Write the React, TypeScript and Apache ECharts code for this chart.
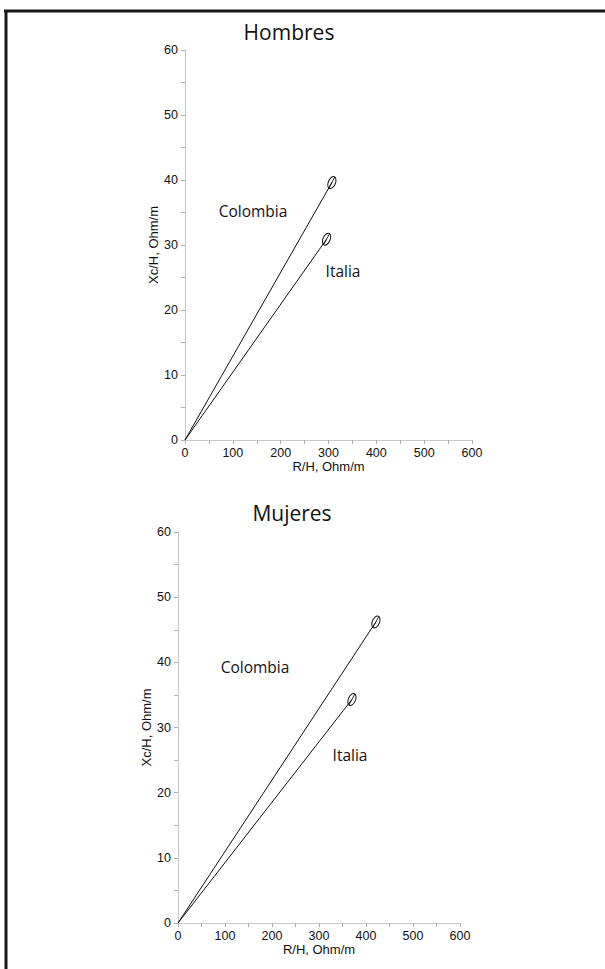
import React, { useEffect, useRef } from "react";
import * as echarts from "echarts";

const countries = ["Colombia", "Italia"];
const hombresRH = [307, 296];
const hombresXcH = [39.6, 30.9];
const mujeresRH = [421, 370];
const mujeresXcH = [46.2, 34.3];
const xTicks = [0, 100, 200, 300, 400, 500, 600];
const yTicks = [0, 10, 20, 30, 40, 50, 60];
const panelTitles = ["Hombres", "Mujeres"];

const AXIS_FONT = "'Liberation Sans', Arial, sans-serif";
const TEXT_FONT = "'Open Sans', Lato, sans-serif";

function makeAxes(gridIndex: number) {
  const common = {
    gridIndex,
    axisLine: { show: true, lineStyle: { color: "#c8c8c8", width: 1 } },
    axisTick: { show: true, length: 4, lineStyle: { color: "#b0b0b0" } },
    minorTick: { show: true, splitNumber: 2, length: 4, lineStyle: { color: "#b0b0b0" } },
    splitLine: { show: false },
    axisLabel: { color: "#111", fontFamily: AXIS_FONT, fontSize: 12.5 },
    nameTextStyle: { color: "#111", fontFamily: AXIS_FONT, fontSize: 13 },
  };
  const x = {
    ...common,
    type: "value",
    min: xTicks[0],
    max: xTicks[xTicks.length - 1],
    interval: xTicks[1] - xTicks[0],
    name: "R/H, Ohm/m",
    nameLocation: "middle",
    nameGap: 20,
    axisLabel: { ...common.axisLabel, margin: 6 },
  };
  const y = {
    ...common,
    type: "value",
    min: yTicks[0],
    max: yTicks[yTicks.length - 1],
    interval: yTicks[1] - yTicks[0],
    name: "Xc/H, Ohm/m",
    nameLocation: "middle",
    nameGap: 24,
    nameRotate: 90,
    axisLabel: { ...common.axisLabel, margin: 7 },
  };
  return { x, y };
}

function ellipseRender(params: any, api: any) {
  const p = api.coord([api.value(0), api.value(1)]);
  const rx = 3.6;
  const ry = 6.3;
  return {
    type: "group",
    x: p[0],
    y: p[1],
    rotation: -0.4,
    children: [
      {
        type: "ellipse",
        shape: { cx: 0, cy: 0, rx, ry },
        style: { fill: "rgba(255,255,255,0)", stroke: "#111", lineWidth: 1 },
      },
      {
        type: "line",
        shape: { x1: -0.6, y1: ry, x2: 0.6, y2: -ry },
        style: { stroke: "#111", lineWidth: 0.8 },
      },
    ],
  };
}

export default function App() {
  const ref = useRef<HTMLDivElement>(null);
  useEffect(() => {
    if (!ref.current) return;
    const chart = echarts.init(ref.current, null, { renderer: "svg" });
    const a0 = makeAxes(0);
    const a1 = makeAxes(1);
    const panels = [
      { r: hombresRH, xc: hombresXcH },
      { r: mujeresRH, xc: mujeresXcH },
    ];
    const series: any[] = [];
    panels.forEach((pn, gi) => {
      countries.forEach((c, i) => {
        series.push({
          type: "line",
          name: c,
          xAxisIndex: gi,
          yAxisIndex: gi,
          data: [
            [0, 0],
            [pn.r[i], pn.xc[i]],
          ],
          showSymbol: false,
          symbol: "none",
          lineStyle: { color: "#111", width: 1 },
          silent: true,
        });
      });
      series.push({
        type: "custom",
        xAxisIndex: gi,
        yAxisIndex: gi,
        renderItem: ellipseRender,
        data: pn.r.map((v, i) => [v, pn.xc[i]]),
        silent: true,
        z: 5,
      });
    });
    const textStyle = (t: string, x: number, y: number, size: number) => ({
      type: "text",
      x,
      y,
      style: {
        text: t,
        fill: "#111",
        font: `${size}px ${TEXT_FONT}`,
        textAlign: "center",
        textVerticalAlign: "middle",
      },
    });
    chart.setOption({
      animation: false,
      backgroundColor: "#fff",
      grid: [
        { left: 185, top: 50, width: 287, height: 390 },
        { left: 178, top: 532, width: 282, height: 391 },
      ],
      xAxis: [a0.x, a1.x],
      yAxis: [a0.y, a1.y],
      series,
      graphic: [
        { type: "line", shape: { x1: 4, y1: 11, x2: 605, y2: 11 }, style: { stroke: "#1a1a1a", lineWidth: 3 } },
        { type: "line", shape: { x1: 6, y1: 10, x2: 6, y2: 969 }, style: { stroke: "#1a1a1a", lineWidth: 3 } },
        textStyle(panelTitles[0], 289, 32, 21),
        textStyle(panelTitles[1], 292, 513, 21),
        textStyle(countries[0], 253, 211, 15.5),
        textStyle(countries[1], 343, 271, 15.5),
        textStyle(countries[0], 255, 667, 15.5),
        textStyle(countries[1], 350, 755, 15.5),
      ],
    });
    return () => chart.dispose();
  }, []);
  return (
    <div
      ref={ref}
      style={{ position: "fixed", left: 0, top: 0, width: 605, height: 969 }}
    />
  );
}
